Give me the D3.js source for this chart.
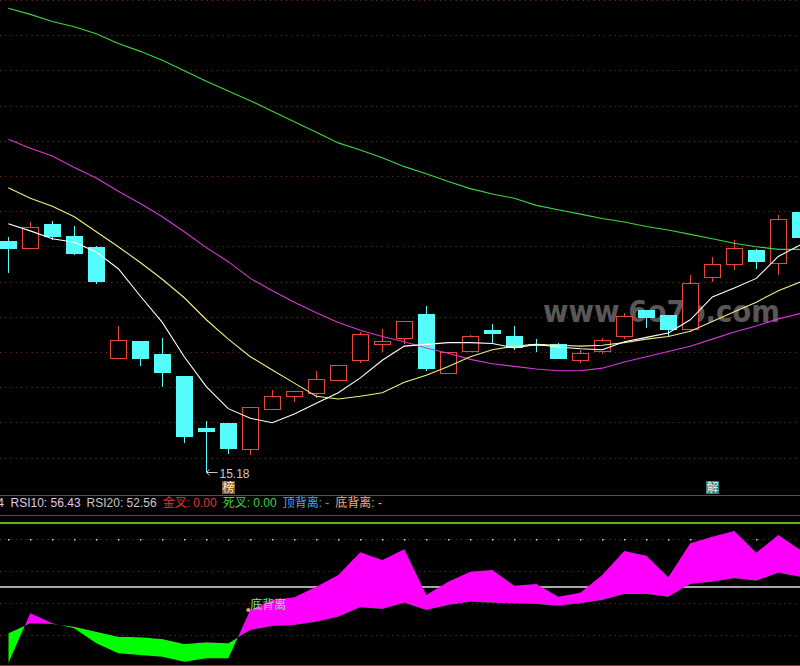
<!DOCTYPE html>
<html>
<head>
<meta charset="utf-8">
<title>RSI</title>
<script src="https://cdn.jsdelivr.net/npm/d3@7/dist/d3.min.js"></script>
<style>
  html, body { margin: 0; padding: 0; background: #000; overflow: hidden; }
  svg { display: block; }
  text { font-family: 'Liberation Sans', 'Noto Sans CJK SC', sans-serif; font-size: 12px; }
</style>
</head>
<body>
<div class="chart"></div>
<script>
////////// data /////////
// daily candles, oldest first
var opens  = [17.81,17.73,18.00,17.86,17.74,16.48,16.67,16.52,16.27,15.68,15.74,15.44,15.90,16.04,16.08,16.22,16.45,16.64,16.70,16.97,16.30,16.55,16.79,16.73,16.64,16.63,16.45,16.56,16.73,17.02,16.96,16.81,17.40,17.54,17.70,17.56,18.13];
var highs  = [17.85,18.02,18.03,17.97,17.75,16.84,16.67,16.70,16.27,15.76,15.74,15.92,16.11,16.10,16.33,16.40,16.77,16.81,16.90,17.07,16.54,16.74,16.86,16.84,16.69,16.65,16.57,16.70,16.99,17.02,16.96,17.42,17.62,17.82,17.71,18.10,18.13];
var lows   = [17.44,17.71,17.82,17.65,17.32,16.47,16.38,16.15,15.51,15.18,15.38,15.37,15.90,15.97,16.02,16.22,16.42,16.54,16.64,16.33,16.29,16.55,16.64,16.57,16.54,16.46,16.42,16.52,16.69,16.82,16.71,16.77,17.34,17.48,17.49,17.42,17.84];
var closes = [17.71,17.96,17.85,17.66,17.34,16.68,16.46,16.30,15.58,15.63,15.44,15.92,16.04,16.10,16.24,16.40,16.75,16.67,16.90,16.35,16.54,16.72,16.75,16.59,16.62,16.46,16.53,16.68,16.95,16.93,16.79,17.33,17.54,17.72,17.57,18.06,17.84];

// moving averages
var ma5  = [18.00,17.92,17.83,17.79,17.68,17.49,17.18,16.88,16.49,16.15,15.90,15.79,15.74,15.84,15.96,16.08,16.25,16.45,16.61,16.63,16.65,16.65,16.64,16.59,16.63,16.60,16.58,16.57,16.66,16.71,16.76,16.91,17.17,17.27,17.38,17.63,17.76];
var ma10 = [18.41,18.29,18.20,18.08,17.91,17.74,17.56,17.37,17.16,16.91,16.69,16.49,16.34,16.19,16.04,16.01,16.04,16.08,16.20,16.28,16.38,16.49,16.57,16.61,16.63,16.62,16.61,16.62,16.65,16.69,16.72,16.78,16.89,17.00,17.11,17.24,17.34];
var ma30 = [18.96,18.86,18.77,18.64,18.52,18.37,18.23,18.08,17.91,17.73,17.57,17.38,17.24,17.11,16.99,16.88,16.79,16.72,16.66,16.59,16.53,16.46,16.41,16.38,16.35,16.33,16.33,16.36,16.43,16.49,16.55,16.61,16.69,16.77,16.84,16.92,16.98];
var ma60 = [20.45,20.38,20.30,20.24,20.16,20.05,19.96,19.86,19.74,19.62,19.51,19.40,19.28,19.16,19.04,18.92,18.84,18.75,18.65,18.57,18.48,18.40,18.34,18.29,18.21,18.16,18.11,18.06,18.02,17.97,17.93,17.88,17.83,17.78,17.74,17.71,17.71];

// rsi sub panel
var rsiFast = [2.3,33.6,27.3,24.2,14.8,8.6,7.5,6.4,3.3,5.4,5.4,35.6,41.9,43.6,50.2,57.5,71.7,66.9,73.6,45.0,53.3,59.6,60.6,50.8,51.9,43.9,46.4,57.5,72.5,69.6,56.1,77.3,81.4,85.0,71.4,82.5,73.14];
var rsiSlow = [21.1,27.3,26.9,25.2,22.1,18.9,18.6,17.5,14.4,15.4,14.8,23.1,25.6,26.3,28.3,31.4,37.3,36.3,40.2,35.6,38.8,40.8,40.2,39.8,39.4,38.3,39.8,41.9,45.6,45.6,43.9,51.9,53.3,55.4,53.9,58.9,56.43];
var rsiDotted = [80, 60, 40, 20];
var rsiMid = 50;
var rsiTop = 90;

var headNames  = ['RSI5', 'RSI10', 'RSI20', '金叉', '死叉', '顶背离', '底背离'];
var headValues = ['73.14', '56.43', '52.56', '0.00', '0.00', '-', '-'];

var signalDays = [10, 32];
var signalText = ['榜', '解'];
var divergeDay = 11;
var divergeText = '底背离';
var watermark = 'www.6o7b.com';

////////// chart /////////
var W = 800, H = 666;
var mainBottom = 495, headBottom = 515, subBottom = 665;

var svg = d3.select('.chart').append('svg')
  .attr('width', W)
  .attr('height', H);

svg.append('rect')
  .attr('width', W)
  .attr('height', H)
  .style('fill', '#000');

var x = d3.scaleLinear().domain([0, closes.length - 1]).range([8.3, 800.3]);
var y = d3.scaleLinear().domain([15.18, 20.68]).range([472, -12]);
var yr = d3.scaleLinear().domain([0, 100]).range([667, 507]);

var px = function(v) { return Math.round(v) + 0.5; };

// watermark sits under everything
svg.append('text')
  .attr('x', 543)
  .attr('y', 322)
  .attr('textLength', 237)
  .attr('lengthAdjust', 'spacingAndGlyphs')
  .style('font-family', 'DejaVu Sans')
  .style('font-weight', 'bold')
  .style('font-size', '31px')
  .style('fill', '#585858')
  .text(watermark);

// main grid, one line every 0.4
var gridTop = y.invert(0);
svg.append('g').selectAll('line')
  .data(d3.range(14).map(function(k) { return gridTop - 0.4 * k; }))
  .enter().append('line')
  .attr('x1', 0).attr('x2', W)
  .attr('y1', function(d) { return px(y(d) - 0.01); })
  .attr('y2', function(d) { return px(y(d) - 0.01); })
  .style('stroke', '#8c2c2c')
  .style('stroke-dasharray', '1,4.3');

// panel borders
svg.append('g').selectAll('line')
  .data([mainBottom, headBottom, subBottom])
  .enter().append('line')
  .attr('x1', 0).attr('x2', W)
  .attr('y1', function(d) { return d + 0.5; })
  .attr('y2', function(d) { return d + 0.5; })
  .style('stroke', '#a32c2c');

////////// candles /////////
var red = '#e8453c', cyan = '#54fcfc';
var days = d3.range(closes.length);
var isUp = function(i) { return closes[i] > opens[i]; };

var candles = svg.append('g').attr('class', 'candles');

// wicks: red ones stop at the hollow body
candles.selectAll('.wick-hi')
  .data(days).enter().append('line')
  .attr('x1', function(i) { return px(x(i)); })
  .attr('x2', function(i) { return px(x(i)); })
  .attr('y1', function(i) { return Math.round(y(highs[i])); })
  .attr('y2', function(i) { return isUp(i) ? Math.round(y(closes[i])) : Math.round(y(lows[i])); })
  .style('stroke', function(i) { return isUp(i) ? red : cyan; });

candles.selectAll('.wick-lo')
  .data(days.filter(isUp)).enter().append('line')
  .attr('x1', function(i) { return px(x(i)); })
  .attr('x2', function(i) { return px(x(i)); })
  .attr('y1', function(i) { return Math.round(y(opens[i])); })
  .attr('y2', function(i) { return Math.round(y(lows[i])); })
  .style('stroke', red);

candles.selectAll('.body-up')
  .data(days.filter(isUp)).enter().append('rect')
  .attr('x', function(i) { return Math.round(x(i) - 8) + 0.5; })
  .attr('width', 16)
  .attr('y', function(i) { return Math.round(y(closes[i])) + 0.5; })
  .attr('height', function(i) { return Math.max(1, Math.round(y(opens[i])) - Math.round(y(closes[i]))); })
  .style('fill', '#000')
  .style('stroke', red);

candles.selectAll('.body-down')
  .data(days.filter(function(i) { return !isUp(i); })).enter().append('rect')
  .attr('x', function(i) { return Math.round(x(i) - 8); })
  .attr('width', 17)
  .attr('y', function(i) { return Math.round(y(opens[i])); })
  .attr('height', function(i) { return Math.max(2, Math.round(y(closes[i])) - Math.round(y(opens[i]))); })
  .style('fill', cyan);

////////// moving averages /////////
var maLine = d3.line()
  .x(function(d, i) { return x(i); })
  .y(function(d) { return y(d); });

var mas = svg.append('g').attr('class', 'ma');
[[ma60, '#3fd63f'], [ma30, '#d63ad6'], [ma10, '#f0f080'], [ma5, '#ffffff']].forEach(function(m) {
  mas.append('path')
    .attr('d', maLine(m[0]))
    .style('fill', 'none')
    .style('stroke', m[1])
    .style('stroke-width', 1.1);
});

// lowest low marker
var lowDay = d3.minIndex(lows);
var lx = px(x(lowDay)), ly = Math.round(y(lows[lowDay])) + 0.5;
svg.append('path')
  .attr('d', 'M' + lx + ',' + ly + 'h11M' + lx + ',' + ly + 'l3,-3M' + lx + ',' + ly + 'l3,3')
  .style('stroke', '#c8c8c8')
  .style('fill', 'none');
svg.append('text')
  .attr('x', lx + 13)
  .attr('y', ly + 5)
  .style('fill', '#c8c8c8')
  .text(d3.format('.2f')(lows[lowDay]));

// signal tags at the bottom of the main panel
var tagColors = ['#8d5a1c', '#1f8585'];
var tags = svg.append('g').selectAll('g')
  .data(signalDays).enter().append('g')
  .attr('transform', function(d) { return 'translate(' + Math.round(x(d) - 6) + ',481)'; });
tags.append('rect')
  .attr('width', 13).attr('height', 13)
  .style('fill', function(d, k) { return tagColors[k]; });
tags.append('text')
  .attr('x', 6.5).attr('y', 11)
  .attr('text-anchor', 'middle')
  .style('fill', '#f4ecd8')
  .text(function(d, k) { return signalText[k]; });

////////// header /////////
var headColors = ['#e4cdf0', '#e0c6ee', '#c8c8c8', '#e23434', '#3ed23e', '#3eaaf0', '#f2a98c'];
var head = svg.append('g');
head.append('text')
  .attr('x', 4).attr('y', 507)
  .attr('text-anchor', 'end')
  .style('fill', headColors[0])
  .text(headNames[0] + ': ' + headValues[0]);
var hx = 10.5;
for (var k = 1; k < headNames.length; k++) {
  var t = head.append('text')
    .attr('x', hx).attr('y', 507)
    .style('fill', headColors[k])
    .text(headNames[k] + ': ' + headValues[k]);
  hx += t.node().getComputedTextLength() + 6;
}

////////// rsi panel /////////
var sub = svg.append('g').attr('class', 'rsi');

sub.append('line')
  .attr('x1', 0).attr('x2', W)
  .attr('y1', yr(rsiTop)).attr('y2', yr(rsiTop))
  .style('stroke', '#5cb531')
  .style('stroke-width', 2);

sub.selectAll('.lvl')
  .data(rsiDotted).enter().append('line')
  .attr('x1', 0).attr('x2', W)
  .attr('y1', function(d) { return px(yr(d)); })
  .attr('y2', function(d) { return px(yr(d)); })
  .style('stroke', '#8c2c2c')
  .style('stroke-dasharray', '1,4.3');

sub.selectAll('.dot80')
  .data(days).enter().append('rect')
  .attr('x', function(i) { return Math.round(x(i)); })
  .attr('y', Math.round(yr(rsiDotted[0])))
  .attr('width', 1.5).attr('height', 1.5)
  .style('fill', '#a6e6e6');

sub.append('line')
  .attr('x1', 0).attr('x2', W)
  .attr('y1', yr(rsiMid)).attr('y2', yr(rsiMid))
  .style('stroke', '#a8a8a8')
  .style('stroke-width', 2);

// band between the two rsi lines, split at the slow line
var defs = svg.append('defs');
defs.append('clipPath').attr('id', 'aboveSlow').append('path')
  .attr('d', d3.area()
    .x(function(d, i) { return x(i); })
    .y0(headBottom)
    .y1(function(d) { return yr(d); })(rsiSlow));
defs.append('clipPath').attr('id', 'belowSlow').append('path')
  .attr('d', d3.area()
    .x(function(d, i) { return x(i); })
    .y0(H)
    .y1(function(d) { return yr(d); })(rsiSlow));

var band = d3.area()
  .x(function(d, i) { return x(i); })
  .y0(function(d, i) { return yr(rsiSlow[i]); })
  .y1(function(d) { return yr(d); });

sub.append('path')
  .attr('d', band(rsiFast))
  .attr('clip-path', 'url(#aboveSlow)')
  .style('fill', '#ff00ff');
sub.append('path')
  .attr('d', band(rsiFast))
  .attr('clip-path', 'url(#belowSlow)')
  .style('fill', '#00ff00');

// divergence signal
sub.append('circle')
  .attr('cx', x(divergeDay) - 2)
  .attr('cy', yr(rsiFast[divergeDay]))
  .attr('r', 2)
  .style('fill', '#f0a060');
sub.append('text')
  .attr('x', x(divergeDay))
  .attr('y', yr(rsiFast[divergeDay]) - 1)
  .style('fill', '#8ee08e')
  .text(divergeText);
</script>
</body>
</html>
